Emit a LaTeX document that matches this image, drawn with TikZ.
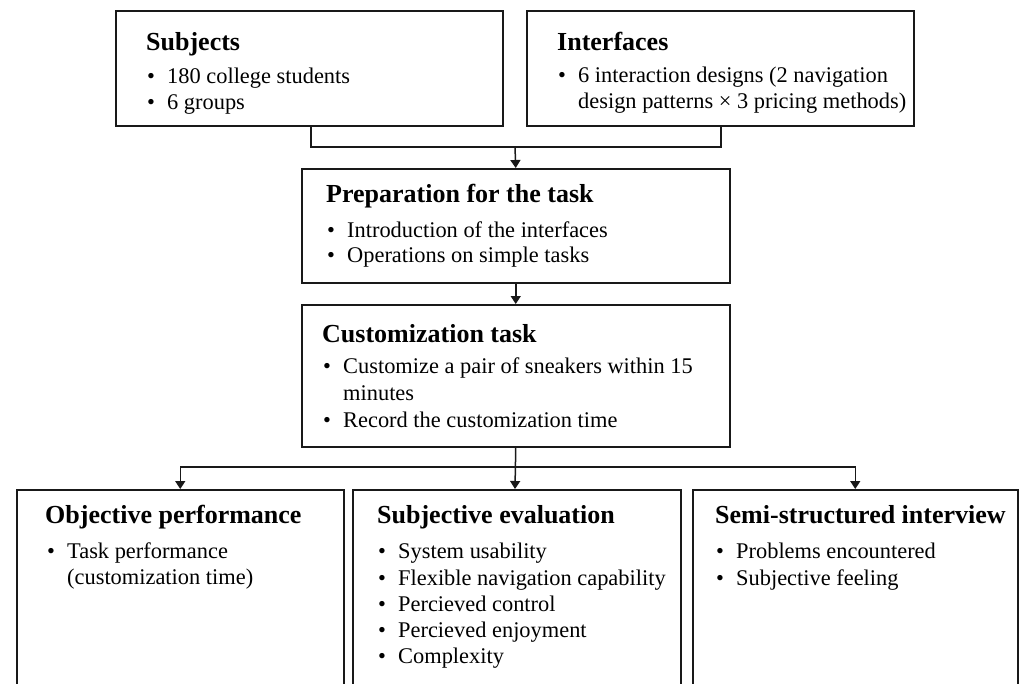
\documentclass[tikz,border=0pt]{standalone}
\usepackage{fontspec}
\setmainfont{Liberation Serif}
\usetikzlibrary{arrows.meta}
\tikzset{
  box/.style={draw=black!90, line width=1.5pt, rectangle, inner sep=0pt, anchor=north west},
  conn/.style={draw=black!90, line width=1.5pt},
  arr/.style={conn, -{Triangle[width=10pt,length=8pt]}},
  ttl/.style={anchor=base west, inner sep=0pt, font=\fontsize{26}{30}\selectfont\bfseries},
  itm/.style={anchor=base west, inner sep=0pt, font=\fontsize{22.4}{26}\selectfont},
}
\newcommand{\bul}{\makebox[20pt][l]{\textbullet}}
\newcommand{\nob}{\hspace*{20pt}}
\begin{document}
\begin{tikzpicture}[x=1pt,y=-1pt]
\useasboundingbox (0,0) rectangle (1019,683);
\clip (0,0) rectangle (1019,683);
% boxes
\node[box, minimum width=387pt, minimum height=115pt] (subj) at (115,10) {};
\node[box, minimum width=387pt, minimum height=115pt] (intf) at (526,10) {};
\node[box, minimum width=428pt, minimum height=114pt] (prep) at (301,168) {};
\node[box, minimum width=428pt, minimum height=142pt] (cust) at (301,304) {};
\node[box, minimum width=327pt, minimum height=220pt] (obj) at (16,489) {};
\node[box, minimum width=328pt, minimum height=220pt] (sev) at (352,489) {};
\node[box, minimum width=325pt, minimum height=220pt] (semi) at (692,489) {};
% connectors
\coordinate (j1) at (515,147);
\coordinate (j2) at (515,467);
\draw[conn] (subj.south -| 311,0) |- (j1) -| (intf.south -| 721,0);
\draw[arr] (j1) -- (prep.north);
\draw[arr] (prep.south) -- (cust.north);
\draw[arr] (cust.south) -- (sev.north -| j2);
\draw[arr] (j2) -| (obj.north);
\draw[arr] (j2) -| (semi.north);
% texts
\node[ttl] (t1) at (146,50) {Subjects};
\node[itm] (t1a) at (147,83) {\bul 180 college students};
\node[itm] (t1b) at (147,109) {\bul 6 groups};
\node[ttl] (t2) at (557,50) {Interfaces};
\node[itm] (t2a) at (558,82) {\bul 6 interaction designs (2 navigation};
\node[itm] (t2b) at (558,108) {\nob design patterns × 3 pricing methods)};
\node[ttl] (t3) at (326,202) {Preparation for the task};
\node[itm] (t3a) at (327,237) {\bul Introduction of the interfaces};
\node[itm] (t3b) at (327,262) {\bul Operations on simple tasks};
\node[ttl] (t4) at (322,342) {Customization task};
\node[itm] (t4a) at (323,373) {\bul Customize a pair of sneakers within 15};
\node[itm] (t4b) at (323,400) {\nob minutes};
\node[itm] (t4c) at (323,427) {\bul Record the customization time};
\node[ttl] (t5) at (45,523) {Objective performance};
\node[itm] (t5a) at (47,558) {\bul Task performance};
\node[itm] (t5b) at (47,584) {\nob (customization time)};
\node[ttl] (t6) at (377,523) {Subjective evaluation};
\node[itm] (t6a) at (378,558) {\bul System usability};
\node[itm] (t6b) at (378,585) {\bul Flexible navigation capability};
\node[itm] (t6c) at (378,611) {\bul Percieved control};
\node[itm] (t6d) at (378,637) {\bul Percieved enjoyment};
\node[itm] (t6e) at (378,663) {\bul Complexity};
\node[ttl] (t7) at (715,523) {Semi-structured interview};
\node[itm] (t7a) at (716,558) {\bul Problems encountered};
\node[itm] (t7b) at (716,585) {\bul Subjective feeling};
\end{tikzpicture}
\end{document}
